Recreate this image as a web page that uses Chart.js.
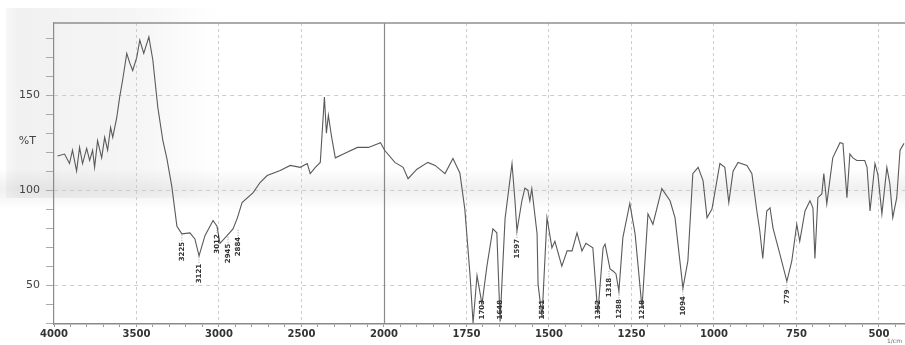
<!DOCTYPE html>
<html><head><meta charset="utf-8">
<script src="https://cdn.jsdelivr.net/npm/chart.js@4"></script>
<style>html,body{margin:0;padding:0;background:#fff}canvas{display:block}</style>
</head><body>
<canvas id="c" width="905" height="345"></canvas>
<script>
// ---- data (wavenumber in cm-1, %T) ----
const wavenumbers = [3979,3936,3906,3888,3863,3845,3827,3802,3784,3766,3754,3736,3711,3693,3675,3657,3644,3620,3602,3584,3559,3541,3523,3498,3480,3456,3425,3401,3371,3340,3316,3286,3255,3225,3176,3146,3121,3085,3036,3012,2994,2951,2915,2890,2860,2793,2751,2708,2629,2568,2508,2465,2447,2416,2386,2361,2349,2337,2319,2295,2246,2161,2094,2021,1998,1967,1942,1927,1900,1867,1845,1815,1791,1770,1755,1739,1730,1718,1703,1688,1670,1658,1648,1639,1633,1612,1603,1597,1582,1573,1564,1558,1552,1536,1533,1521,1506,1491,1482,1461,1445,1430,1415,1400,1388,1367,1352,1336,1330,1315,1306,1297,1288,1276,1255,1239,1218,1200,1185,1158,1133,1118,1094,1079,1064,1048,1033,1021,1006,982,967,955,942,927,900,885,870,861,852,840,830,821,800,779,764,749,740,724,709,700,694,685,673,667,658,640,618,609,597,588,579,567,543,536,527,512,503,491,476,467,458,446,436,424];
const transmittance = [118,119,114,121,110,122.5,114,122,115.6,121,112,126,117,127.8,121,133,127.8,138,149,158,172,167,163,170,179,172,180.7,168.5,143.7,126,116.7,102,81,77,77.5,74.3,65.4,76,84,81,72,76,79.6,85,93.4,98.7,104,107.7,110.3,113,112,114,108.7,112,114.6,149,130,139.4,128.8,117,119,122.5,122.5,125,121,114.6,112,106,111,114.6,113,108.7,116.7,109,90,54.8,30,55,40,60,79.6,77.5,31,63.8,85,114,94.4,78.5,94.4,101,100,94.4,100.8,77,50.5,33,85.5,69.6,73,60,68,68,77.5,68,72,69.6,35,69.6,71.6,58.5,57.4,56,46.8,75,93,77,38,87.5,82,100.8,94.4,85.5,48.4,62.7,108.7,112,105,85.5,90,114,112,93.4,110,114.6,113,108.7,89,78.5,64,89,90.7,80,66.2,52,62.7,82,73,89,94.4,90.7,64,96,98,108.7,92.8,117,125,124.6,96,119,117,115.6,115.6,112,89,114,108,87.5,112,103.4,85.5,96,121,124.6];
const xTickWavenumbers = [4000,3500,3000,2500,2000,1750,1500,1250,1000,750,500];
const yTickLabels = [50,100,150];
const peakWavenumbers = [3225,3121,3012,2945,2884,1703,1648,1597,1521,1352,1318,1288,1218,1094,779];
const peakTransmittance = [77,65.4,81,76,79.6,40,31,78.5,33,35,58,46.8,38,48.4,52];
const peakLabels = ['3225','3121','3012','2945','2884','1703','1648','1597','1521','1352','1318','1288','1218','1094','779'];
const yAxisTitle = '%T';
const xUnit = '1/cm';

// IR chart abscissa: scale doubles below 2000 cm-1
function axisPos(w){ return w >= 2000 ? 4000 - w : 2000 + 2*(2000 - w); }
function axisInv(p){ return p <= 2000 ? 4000 - p : 2000 - (p - 2000)/2; }
const majorPos = xTickWavenumbers.map(axisPos);

const points = wavenumbers.map((w,i)=>({x: axisPos(w), y: transmittance[i]}));

const bgPlugin = {
  id:'bg',
  beforeDraw(chart){
    const ctx = chart.ctx; ctx.save();
    ctx.fillStyle='#fff'; ctx.fillRect(0,0,chart.width,chart.height);
    let g = ctx.createLinearGradient(0,0,220,0);
    g.addColorStop(0,'rgba(0,0,0,0.02)'); g.addColorStop(0.08,'rgba(0,0,0,0.055)');
    g.addColorStop(0.6,'rgba(0,0,0,0.04)'); g.addColorStop(1,'rgba(0,0,0,0)');
    ctx.fillStyle=g; ctx.fillRect(6,8,214,190);
    g = ctx.createLinearGradient(0,168,0,210);
    g.addColorStop(0,'rgba(0,0,0,0)'); g.addColorStop(0.5,'rgba(0,0,0,0.06)'); g.addColorStop(1,'rgba(0,0,0,0)');
    ctx.fillStyle=g; ctx.fillRect(0,168,chart.width,42);
    ctx.restore();
  },
  beforeDatasetsDraw(chart){
    const {ctx, chartArea:a, scales:{x}} = chart;
    ctx.save();
    const px = Math.round(x.getPixelForValue(axisPos(2000)))+0.5;
    ctx.strokeStyle='#8a8a8a'; ctx.lineWidth=1.2;
    ctx.beginPath(); ctx.moveTo(px,a.top); ctx.lineTo(px,a.bottom); ctx.stroke();
    ctx.strokeStyle='#8f8f8f'; ctx.lineWidth=1.6;
    ctx.beginPath(); ctx.moveTo(a.left-1,a.top); ctx.lineTo(a.right,a.top); ctx.stroke();
    ctx.restore();
  },
  afterDatasetsDraw(chart){
    const {ctx, chartArea:a, scales:{x,y}} = chart;
    ctx.save();
    ctx.beginPath(); ctx.rect(a.left,a.top,a.right-a.left,a.bottom-a.top); ctx.clip();
    ctx.font='bold 7px "DejaVu Sans"'; ctx.fillStyle='#333'; ctx.textBaseline='middle'; ctx.textAlign='left';
    peakWavenumbers.forEach((w,i)=>{
      const px = x.getPixelForValue(axisPos(w));
      const py = y.getPixelForValue(peakTransmittance[i]);
      const top = Math.min(py+8, a.bottom-24);
      ctx.strokeStyle='#888'; ctx.lineWidth=0.8; ctx.setLineDash([1,1.5]);
      ctx.beginPath(); ctx.moveTo(px,py+1); ctx.lineTo(px,top); ctx.stroke(); ctx.setLineDash([]);
      const tw = ctx.measureText(peakLabels[i]).width;
      ctx.save(); ctx.translate(px, top+tw); ctx.rotate(-Math.PI/2);
      ctx.fillText(peakLabels[i],0,0); ctx.restore();
    });
    ctx.restore();
    ctx.save();
    ctx.font='11px "DejaVu Sans"'; ctx.fillStyle='#444'; ctx.textAlign='right'; ctx.textBaseline='middle';
    ctx.fillText(yAxisTitle, 36, y.getPixelForValue(126));
    ctx.font='6px "DejaVu Sans"'; ctx.fillStyle='#666'; ctx.textAlign='right';
    ctx.fillText(xUnit, chart.width-3, chart.height-4);
    ctx.restore();
  }
};

new Chart(document.getElementById('c'), {
  type:'line',
  data:{datasets:[{data:points, borderColor:'#5a5a5a', borderWidth:1.1, pointRadius:0, tension:0, fill:false}]},
  options:{
    responsive:false, animation:false, devicePixelRatio:1,
    layout:{padding:{top:23,right:0,left:0,bottom:0}},
    plugins:{legend:{display:false}, tooltip:{enabled:false}},
    scales:{
      x:{type:'linear', min:0, max:5158,
        afterFit(s){ s.height = 21; },
        afterBuildTicks(s){ const t=[]; for(let p=0;p<=5100;p+=100) t.push({value:p}); s.ticks=t; },
        ticks:{autoSkip:false, maxRotation:0, padding:1, color:'#333', font:{family:'DejaVu Sans', size:10, weight:'bold'},
          callback(v){ return majorPos.includes(v) ? String(axisInv(v)) : ''; }},
        grid:{drawTicks:true, tickLength:3, tickColor:'#999',
          color(c){ const v=c.tick&&c.tick.value; return (majorPos.includes(v) && v!==0 && v!==2000) ? '#cdcdcd' : 'rgba(0,0,0,0)'; }},
        border:{display:true, color:'#8a8a8a', width:1.6, dash:[3,3]}
      },
      y:{type:'linear', min:29.5, max:188,
        afterFit(s){ s.width = 54; },
        afterBuildTicks(s){ const t=[]; for(let v=30;v<=180;v+=10) t.push({value:v}); s.ticks=t; },
        ticks:{autoSkip:false, padding:6, color:'#444', font:{family:'DejaVu Sans', size:11},
          callback(v){ return yTickLabels.includes(v) ? String(v) : ''; }},
        grid:{drawTicks:true, tickLength:8, tickColor:'#aaa',
          color(c){ const v=c.tick&&c.tick.value; return yTickLabels.includes(v) ? '#cdcdcd' : 'rgba(0,0,0,0)'; }},
        border:{display:true, color:'#8a8a8a', width:1.2, dash:[4,4]}
      }
    }
  },
  plugins:[bgPlugin]
});
</script>
</body></html>
